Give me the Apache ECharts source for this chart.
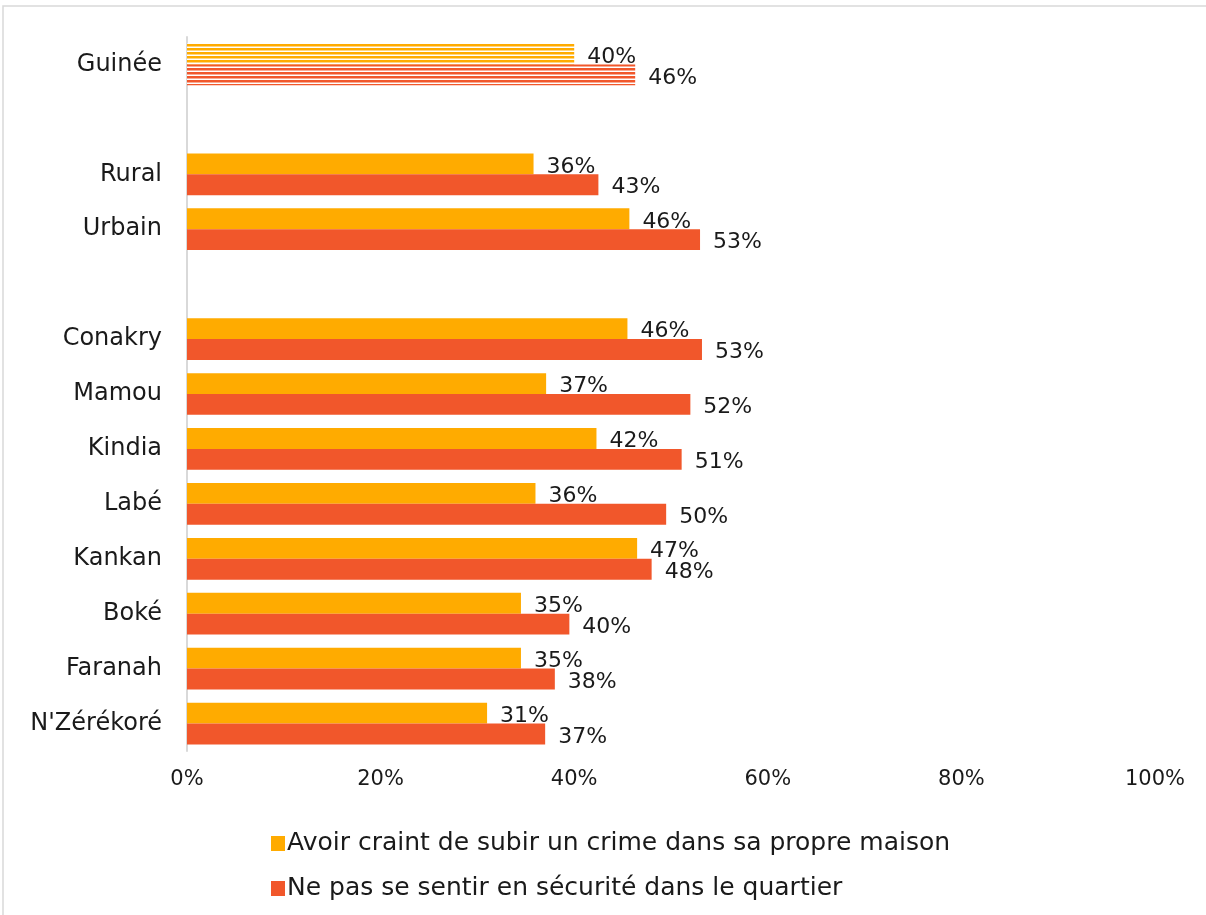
<!DOCTYPE html>
<html>
<head>
<meta charset="utf-8">
<script src="https://cdn.jsdelivr.net/npm/echarts@6/dist/echarts.min.js"></script>
<style>
  html, body { margin: 0; padding: 0; background: #fff; }
  #chart { width: 1206px; height: 915px; }
</style>
</head>
<body>
<div id="chart"></div>
<script>
var categories = ['Guinée', '', 'Rural', 'Urbain', '', 'Conakry', 'Mamou', 'Kindia', 'Labé', 'Kankan', 'Boké', 'Faranah', "N'Zérékoré"];
var craintMaison = [40.0, null, 35.8, 45.7, null, 45.5, 37.1, 42.3, 36.0, 46.5, 34.5, 34.5, 31.0];
var insecuriteQuartier = [46.3, null, 42.5, 53.0, null, 53.2, 52.0, 51.1, 49.5, 48.0, 39.5, 38.0, 37.0];
var seriesNames = ['Avoir craint de subir un crime dans sa propre maison', 'Ne pas se sentir en sécurité dans le quartier'];
var xTicks = [0, 20, 40, 60, 80, 100];

var YELLOW = '#ffab00';
var RED = '#f1572b';
var FONT = 'DejaVu Sans';

function stripes(color) {
  var c = document.createElement('canvas');
  c.width = 8;
  c.height = 4;
  var ctx = c.getContext('2d');
  ctx.fillStyle = '#ffffff';
  ctx.fillRect(0, 0, 8, 4);
  ctx.fillStyle = color;
  ctx.fillRect(0, 0, 8, 2.5);
  return { image: c, repeat: 'repeat' };
}

function buildData(values, color) {
  return values.map(function (v, i) {
    if (v === null) return null;
    if (i === 0) return { value: v, itemStyle: { color: stripes(color) } };
    return v;
  });
}

var chart = echarts.init(document.getElementById('chart'), null, { renderer: 'canvas' });

var labelStyle = {
  show: true,
  position: 'right',
  distance: 13,
  offset: [0, 3],
  color: '#1a1a1a',
  fontFamily: FONT,
  fontSize: 22,
  formatter: function (p) { return Math.round(p.value) + '%'; }
};

var option = {
  animation: false,
  graphic: [{
    type: 'rect',
    shape: { x: 3, y: 6, width: 1215, height: 920 },
    style: { fill: 'none', stroke: '#d9d9d9', lineWidth: 1.5 },
    silent: true
  }],
  grid: { left: 187, right: 51, top: 37, bottom: 164 },
  legend: {
    orient: 'vertical',
    left: 266,
    top: 826,
    itemGap: 20,
    itemWidth: 14,
    itemHeight: 15,
    icon: 'rect',
    textStyle: { fontFamily: FONT, fontSize: 25, color: '#1a1a1a', padding: [0, 0, 0, -3] },
    data: seriesNames
  },
  xAxis: {
    type: 'value',
    min: 0,
    max: 100,
    interval: 20,
    axisLine: { show: false },
    axisTick: { show: false },
    splitLine: { show: false },
    axisLabel: {
      margin: 18,
      color: '#1a1a1a',
      fontFamily: FONT,
      fontSize: 21,
      formatter: function (v) { return xTicks.indexOf(v) >= 0 ? v + '%' : ''; }
    }
  },
  yAxis: {
    type: 'category',
    inverse: true,
    data: categories,
    axisLine: { show: true, lineStyle: { color: '#d9d9d9', width: 2 } },
    axisTick: { show: false },
    axisLabel: {
      margin: 25,
      color: '#1a1a1a',
      fontFamily: FONT,
      fontSize: 24
    }
  },
  series: [
    {
      name: seriesNames[0],
      type: 'bar',
      data: buildData(craintMaison, YELLOW),
      itemStyle: { color: YELLOW },
      barGap: '0%',
      barCategoryGap: '24%',
      label: labelStyle
    },
    {
      name: seriesNames[1],
      type: 'bar',
      data: buildData(insecuriteQuartier, RED),
      itemStyle: { color: RED },
      barGap: '0%',
      barCategoryGap: '24%',
      label: labelStyle
    }
  ]
};

chart.setOption(option);
window.addEventListener('resize', chart.resize);
</script>
</body>
</html>
